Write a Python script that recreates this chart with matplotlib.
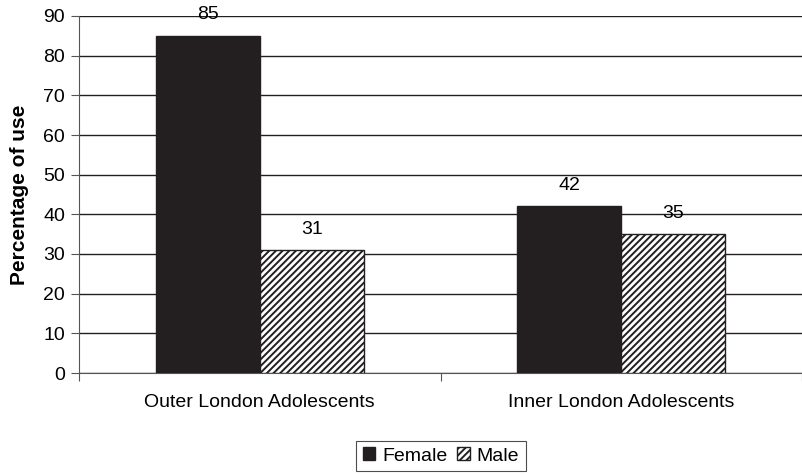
import matplotlib.pyplot as plt
import numpy as np

plt.rcParams['font.family'] = ['Liberation Sans', 'DejaVu Sans']
plt.rcParams['hatch.linewidth'] = 1.4

# Data
groups = ['Outer London Adolescents', 'Inner London Adolescents']
series = ['Female', 'Male']
female = [85, 42]
male = [31, 35]

fs = 14

fig = plt.figure(figsize=(8.02, 4.75), dpi=100)
ax = fig.add_axes([79 / 802, 102 / 475, 1 - 79 / 802, 357 / 475])

centers = np.arange(len(groups)) + 0.5
w = 0.287
b1 = ax.bar(centers - w / 2, female, w, color='#231f20', edgecolor='#231f20',
            linewidth=1, label=series[0], zorder=3)
b2 = ax.bar(centers + w / 2, male, w, color='white', edgecolor='#231f20',
            hatch='/////', linewidth=1, label=series[1], zorder=3)

for bars in (b1, b2):
    for rect in bars:
        h = rect.get_height()
        ax.annotate(f'{h:g}', (rect.get_x() + rect.get_width() / 2, h),
                    xytext=(0, 21), textcoords='offset pixels',
                    ha='center', va='center', fontsize=fs)

ax.set_xlim(0, 2)
ax.set_ylim(0, 90)
ax.set_yticks(range(0, 91, 10))
ax.yaxis.grid(True, color='#231f20', linewidth=1)
ax.set_axisbelow(True)
ax.tick_params(axis='y', length=6, width=0.8, labelsize=fs, pad=4,
               color='#555555')

# category boundaries as major ticks, names as minor ticks
ax.set_xticks([0, 1, 2])
ax.set_xticklabels([])
ax.set_xticks(centers, minor=True)
ax.set_xticklabels(groups, minor=True)
ax.tick_params(axis='x', which='major', length=6, width=0.8, color='#555555')
ax.tick_params(axis='x', which='minor', length=0, labelsize=fs, pad=15)

for s in ('top', 'right'):
    ax.spines[s].set_visible(False)
ax.spines['left'].set_color('#555555')
ax.spines['left'].set_linewidth(0.8)
ax.spines['bottom'].set_color('#555555')
ax.spines['bottom'].set_linewidth(0.8)

ax.set_ylabel('Percentage of use', fontsize=15, fontweight='bold', labelpad=10)

fig.legend(handles=[b1, b2], labels=series, loc='center',
           bbox_to_anchor=(441 / 802, 19 / 475), ncol=2, fontsize=fs,
           frameon=True, fancybox=False, edgecolor='#231f20',
           handlelength=0.65, handleheight=0.65, handletextpad=0.35,
           columnspacing=0.5, borderpad=0.35)
fig.legends[0].get_frame().set_linewidth(0.8)

fig.savefig('out.png', dpi=100)
